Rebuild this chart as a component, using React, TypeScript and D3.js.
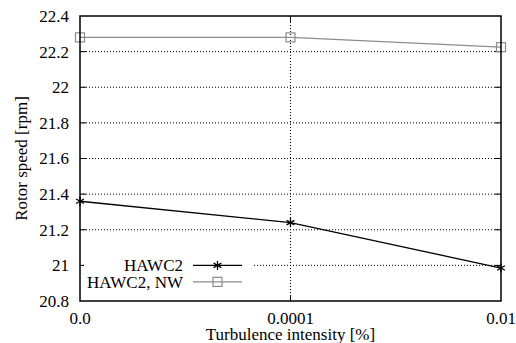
import * as d3 from "d3";

const categories = ["0.0", "0.0001", "0.01"];
const hawc2 = [21.36, 21.24, 20.985];
const hawc2NW = [22.28, 22.28, 22.225];
const yTicks = [20.8, 21, 21.2, 21.4, 21.6, 21.8, 22, 22.2, 22.4];

const width = 516;
const height = 343;
const margin = { top: 16, right: 15, bottom: 42, left: 80 };
const iw = width - margin.left - margin.right;
const ih = height - margin.top - margin.bottom;
const font = "Liberation Serif";
const fs = 17;
const gray = "#8c8c8c";

const x = d3.scalePoint().domain(categories).range([0, iw]);
const y = d3.scaleLinear().domain([20.8, 22.4]).range([ih, 0]);
const line = d3
    .line<number>()
    .x((_, i) => x(categories[i]) || 0)
    .y((d) => y(d));

// gnuplot-style asterisk
function Star({ cx, cy, color }: { cx: number; cy: number; color: string }) {
    const r = 4.5;
    return (
        <g stroke={color} strokeWidth={1.3}>
            {[0, 60, 120].map((a) => {
                const rad = (a * Math.PI) / 180;
                return (
                    <line
                        key={a}
                        x1={cx - r * Math.sin(rad)}
                        x2={cx + r * Math.sin(rad)}
                        y1={cy - r * Math.cos(rad)}
                        y2={cy + r * Math.cos(rad)}
                    />
                );
            })}
        </g>
    );
}

function Square({ cx, cy, color }: { cx: number; cy: number; color: string }) {
    return <rect x={cx - 4.5} y={cy - 4.5} width={9} height={9} fill="none" stroke={color} strokeWidth={1.2} />;
}

const legend = [
    { name: "HAWC2", color: "#000", kind: "star" },
    { name: "HAWC2, NW", color: gray, kind: "square" },
];

export default function App() {
    const tl = 6;
    const inner = yTicks.slice(1, -1);
    const innerX = categories.slice(1, -1);
    return (
        <div style={{ position: "absolute", left: 0, top: 0 }}>
            <svg width={width} height={height} style={{ display: "block", background: "#fff" }}>
                <g transform={`translate(${margin.left},${margin.top})`} fontFamily={font} fontSize={fs}>
                    {/* grid */}
                    {inner.map((t) => (
                        <line key={"h" + t} x1={0} x2={iw} y1={y(t)} y2={y(t)} stroke="#000" strokeDasharray="1,2" />
                    ))}
                    {innerX.map((c) => (
                        <line key={"v" + c} x1={x(c)} x2={x(c)} y1={0} y2={ih} stroke="#000" strokeDasharray="1,2" />
                    ))}
                    {/* ticks, inward and mirrored */}
                    {inner.map((t) => (
                        <g key={"t" + t} stroke="#000">
                            <line x1={0} x2={tl} y1={y(t)} y2={y(t)} />
                            <line x1={iw - tl} x2={iw} y1={y(t)} y2={y(t)} />
                        </g>
                    ))}
                    {innerX.map((c) => (
                        <g key={"tx" + c} stroke="#000">
                            <line x1={x(c)} x2={x(c)} y1={0} y2={tl} />
                            <line x1={x(c)} x2={x(c)} y1={ih - tl} y2={ih} />
                        </g>
                    ))}
                    {/* tick labels */}
                    {yTicks.map((t) => (
                        <text key={"yl" + t} x={-11} y={y(t)} dy="0.35em" textAnchor="end" fontFamily={font}>
                            {d3.format("")(t)}
                        </text>
                    ))}
                    {categories.map((c) => (
                        <text key={"xl" + c} x={x(c)} y={ih + 23} textAnchor="middle" fontFamily={font}>
                            {c}
                        </text>
                    ))}
                    {/* axis titles */}
                    <text x={iw / 2} y={ih + 39} textAnchor="middle" fontFamily={font}>
                        Turbulence intensity [%]
                    </text>
                    <text transform={`translate(-53,${ih / 2}) rotate(-90)`} textAnchor="middle" fontFamily={font}>
                        Rotor speed [rpm]
                    </text>
                    {/* legend background */}
                    <rect x={4} y={y(21) - 12} width={168} height={32} fill="#fff" />
                    {/* series */}
                    <path d={line(hawc2NW) || ""} fill="none" stroke={gray} strokeWidth={1.3} />
                    {hawc2NW.map((v, i) => (
                        <Square key={"s" + i} cx={x(categories[i]) || 0} cy={y(v)} color={gray} />
                    ))}
                    <path d={line(hawc2) || ""} fill="none" stroke="#000" strokeWidth={1.3} />
                    {hawc2.map((v, i) => (
                        <Star key={"p" + i} cx={x(categories[i]) || 0} cy={y(v)} color="#000" />
                    ))}
                    {/* legend */}
                    {legend.map((d, i) => {
                        const ly = y(21) + i * 16.5;
                        return (
                            <g key={d.name}>
                                <text x={103} y={ly} dy="0.35em" textAnchor="end" fontFamily={font}>
                                    {d.name}
                                </text>
                                <line x1={113} x2={162} y1={ly} y2={ly} stroke={d.color} strokeWidth={1.3} />
                                {d.kind === "star" ? (
                                    <Star cx={137.5} cy={ly} color={d.color} />
                                ) : (
                                    <Square cx={137.5} cy={ly} color={d.color} />
                                )}
                            </g>
                        );
                    })}
                    {/* frame */}
                    <rect x={0} y={0} width={iw} height={ih} fill="none" stroke="#000" strokeWidth={1.5} />
                </g>
            </svg>
        </div>
    );
}
